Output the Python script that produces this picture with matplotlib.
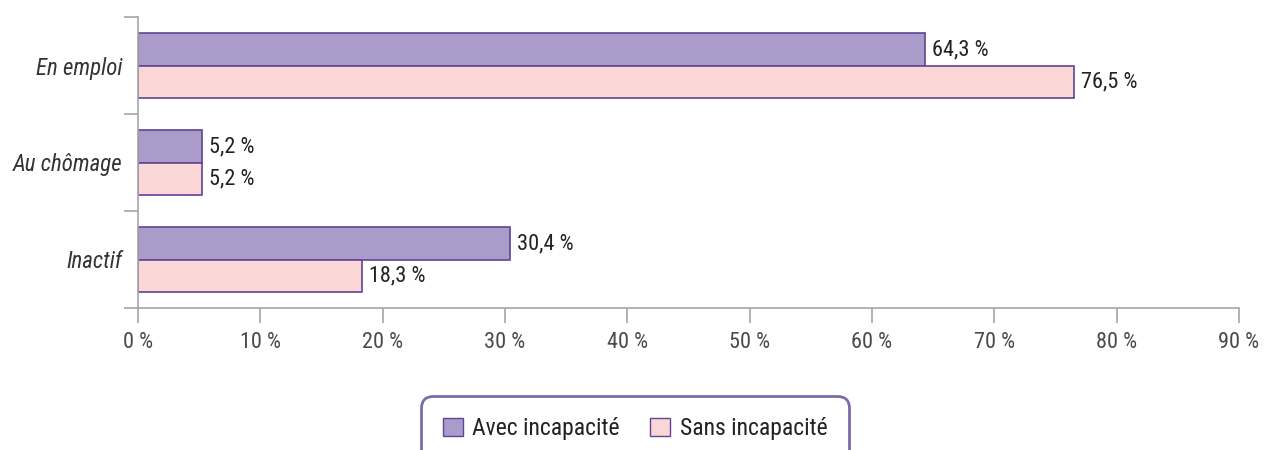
import matplotlib
matplotlib.use("Agg")
import matplotlib.pyplot as plt
from matplotlib.patches import Patch
import numpy as np

plt.rcParams['font.family'] = ['Roboto Condensed', 'Roboto', 'DejaVu Sans']

categories = ["En emploi", "Au chômage", "Inactif"]
avec = [64.3, 5.2, 30.4]
sans = [76.5, 5.2, 18.3]
series_names = ["Avec incapacité", "Sans incapacité"]
xticks = [0, 10, 20, 30, 40, 50, 60, 70, 80, 90]

c_avec = "#ab9bca"
c_sans = "#fad6d6"
edge = "#5e4694"
grey = "#a6a6a6"
txt = "#222222"

fig = plt.figure(figsize=(12.7, 4.5), dpi=100)
ax = fig.add_axes([138/1270, 1-308/450, (1239-138)/1270, (308-17)/450])

y = np.arange(len(categories))
h = 0.33
b1 = ax.barh(y - h/2, avec, height=h, color=c_avec, edgecolor=edge, linewidth=1.2)
b2 = ax.barh(y + h/2, sans, height=h, color=c_sans, edgecolor=edge, linewidth=1.2)

def fmt(v):
    return f"{v:.1f}".replace(".", ",") + " %"

for bars, vals in ((b1, avec), (b2, sans)):
    for bar, v in zip(bars, vals):
        ax.annotate(fmt(v), (v, bar.get_y() + bar.get_height()/2),
                    xytext=(5, 0), textcoords="offset points",
                    va="center", ha="left", fontsize=16, color=txt)

ax.set_xlim(0, 90)
ax.set_ylim(2.5, -0.5)
ax.set_xticks(xticks)
ax.set_xticklabels([f"{t} %" for t in xticks], fontsize=16, color="#4a4a4a")
ax.set_yticks(np.arange(-0.5, len(categories), 1.0))
ax.set_yticklabels([])
ax.set_yticks(y, minor=True)
ax.set_yticklabels(categories, minor=True, fontsize=16.5, style="italic", color="#333333")
ax.tick_params(axis="y", which="minor", length=0, pad=11)
ax.tick_params(axis="y", which="major", length=10, color=grey, width=1.2)
ax.tick_params(axis="x", length=11, color=grey, width=1.2, pad=6)

for s in ("top", "right"):
    ax.spines[s].set_visible(False)
for s in ("left", "bottom"):
    ax.spines[s].set_color(grey)
    ax.spines[s].set_linewidth(1.2)

handles = [Patch(facecolor=c_avec, edgecolor=edge, linewidth=1),
           Patch(facecolor=c_sans, edgecolor=edge, linewidth=1)]
leg = fig.legend(handles, series_names, loc="upper center",
                 bbox_to_anchor=(0.5, 1-396/450), ncol=2, fontsize=17,
                 frameon=True, fancybox=True, handlelength=0.85, handleheight=0.85,
                 handletextpad=0.4, columnspacing=1.3, borderpad=0.9,
                 borderaxespad=0)
fr = leg.get_frame()
fr.set_edgecolor(edge)
fr.set_linewidth(2)
fr.set_boxstyle("round", pad=0, rounding_size=0.5)
for t in leg.get_texts():
    t.set_color(txt)

fig.savefig("out.png", dpi=100)
